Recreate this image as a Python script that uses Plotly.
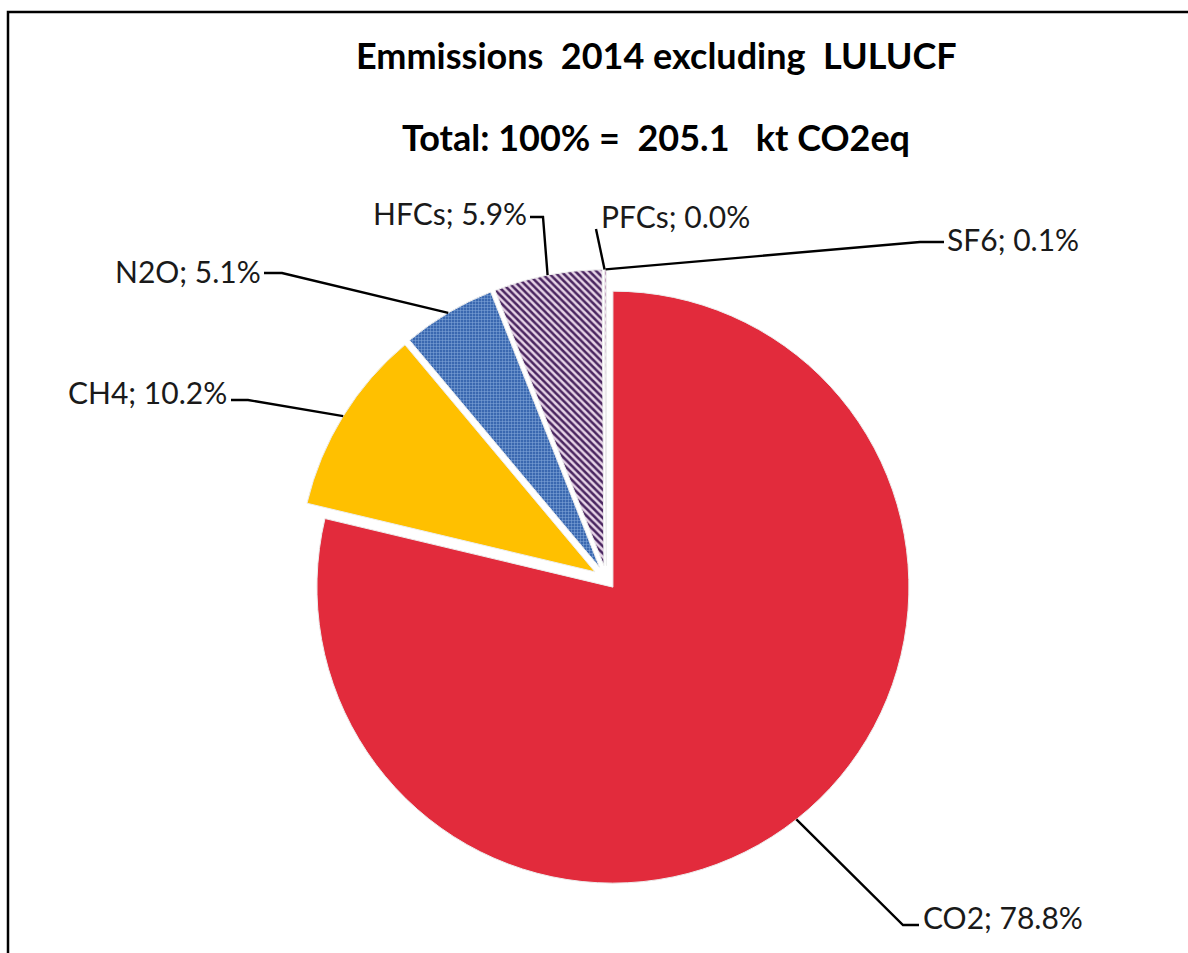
import math
import plotly.graph_objects as go

# ---- data ----
gases = ["CO2", "CH4", "N2O", "HFCs", "PFCs", "SF6"]
shares = [78.8, 10.2, 5.1, 5.9, 0.0, 0.1]   # % of total
total_kt = 205.1
year = 2014

# ---- styling / layout ----
W, H = 1188, 953
CX, CY = 606.5, 579.0        # pie centre (px)
R = 296.0                    # radius (px)
pulls = [0.035, 0.046, 0.046, 0.046, 0.046, 0.046]
colors = ["#E22B3C", "#FFC000", "#4472C4", "#FFFFFF", "#FFFFFF", "#FFFFFF"]
pat_shape = ["", "", "+", "\\", "", "\\"]
pat_fg = ["#E22B3C", "#FFC000", "#86AADC", "#4A2660", "#4A2660", "#B98FB5"]
pat_bg = ["#E22B3C", "#FFC000", "#3A68B0", "#E6D3E6", "#E6D3E6", "#F3E6F1"]
pat_size = [5, 5, 3, 5, 5, 5]
pat_sol = [0.3, 0.3, 0.3, 0.5, 0.5, 0.5]

# label placement (px): (x, y, anchor, elbow-point, start-point)
label_pos = {
    "CO2": (921, 917, "left", (903, 925), (919, 925)),
    "CH4": (229, 392, "right", (248, 400), (231, 400)),
    "N2O": (263, 271, "right", (282, 273), (264, 273)),
    "HFCs": (529, 213, "right", (543, 217), (530, 217)),
    "PFCs": (599, 216, "left", (596, 229), None),
    "SF6": (945, 239, "left", (920, 242), (944, 242)),
}

FONT = "Lato"

def px2paper(x, y):
    return x / W, 1 - y / H

maxpull = max(pulls)
half = R * (1 + maxpull)
dom_x = [(CX - half) / W, (CX + half) / W]
dom_y = [1 - (CY + half) / H, 1 - (CY - half) / H]

fig = go.Figure(go.Pie(
    labels=gases,
    values=shares,
    sort=False,
    direction="clockwise",
    rotation=0,
    pull=pulls,
    textinfo="none",
    hoverinfo="label+percent",
    showlegend=False,
    domain=dict(x=dom_x, y=dom_y),
    marker=dict(
        colors=colors,
        line=dict(color="#EDEDED", width=1),
        pattern=dict(shape=pat_shape, fgcolor=pat_fg, bgcolor=pat_bg,
                     size=pat_size, solidity=pat_sol),
    ),
))

# anchor points on slice arcs, derived from the data
tot = sum(shares)
cum = 0.0
annotations = []
shapes = []
for g, v, p in zip(gases, shares, pulls):
    mid = (cum + v / 2) / tot * 2 * math.pi
    cum += v
    ax = CX + (1 + p) * R * math.sin(mid)
    ay = CY - (1 + p) * R * math.cos(mid)
    lx, ly, anc, elbow, start = label_pos[g]
    pts = []
    if start is not None:
        pts.append(start)
    pts.append(elbow)
    pts.append((ax, ay))
    path = ""
    for i, (x, y) in enumerate(pts):
        px, py = px2paper(x, y)
        path += ("M" if i == 0 else "L") + f"{px:.5f},{py:.5f} "
    shapes.append(dict(type="path", xref="paper", yref="paper", path=path,
                       line=dict(color="black", width=2.4)))
    tx, ty = px2paper(lx, ly)
    annotations.append(dict(
        x=tx, y=ty, xref="paper", yref="paper", xanchor=anc, yanchor="middle",
        text=f"{g};\u00a0{v:.1f}%", showarrow=False,
        font=dict(family=FONT, size=30, color="#1a1a1a")))

# titles
t1x, t1y = px2paper(656, 55)
t2x, t2y = px2paper(656, 137)
annotations.append(dict(x=t1x, y=t1y, xref="paper", yref="paper",
                        xanchor="center", yanchor="middle", showarrow=False,
                        text=f"<b>Emmissions\u00a0\u00a0{year}\u00a0excluding\u00a0\u00a0LULUCF</b>",
                        font=dict(family=FONT, size=36, color="black")))
annotations.append(dict(x=t2x, y=t2y, xref="paper", yref="paper",
                        xanchor="center", yanchor="middle", showarrow=False,
                        text=f"<b>Total:\u00a0100%\u00a0=\u00a0\u00a0{total_kt:.1f}\u00a0\u00a0\u00a0kt\u00a0CO2eq</b>",
                        font=dict(family=FONT, size=36, color="black")))

# frame (left/top edges visible)
fx0, fy0 = px2paper(8, 12)
shapes.append(dict(type="rect", xref="paper", yref="paper",
                   x0=fx0, y0=-0.05, x1=1.05, y1=fy0,
                   line=dict(color="black", width=2.5)))

fig.update_layout(
    width=W, height=H, autosize=False,
    margin=dict(l=0, r=0, t=0, b=0),
    paper_bgcolor="white", plot_bgcolor="white",
    annotations=annotations, shapes=shapes,
)

fig.write_html(
    "out.html",
    config={"displayModeBar": False},
    post_script="document.body.style.margin='0';document.body.style.overflow='hidden';",
)
